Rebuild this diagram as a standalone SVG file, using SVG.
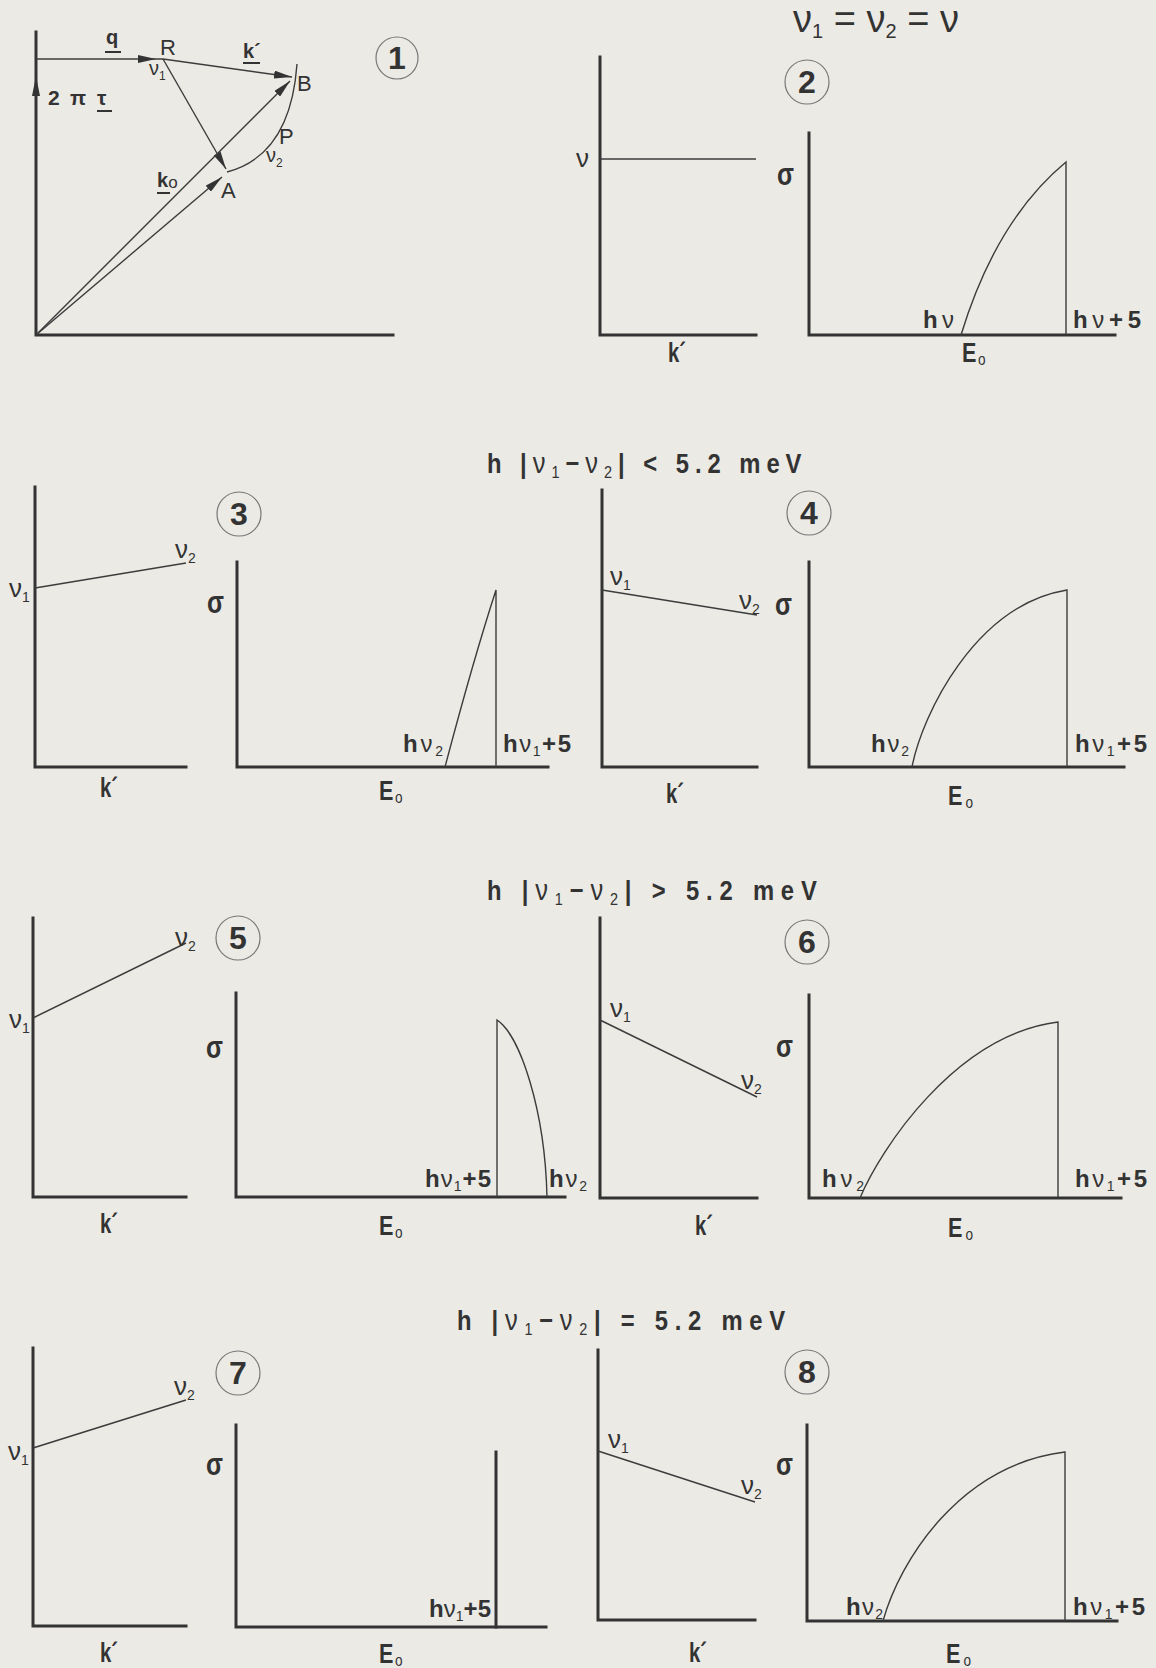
<svg xmlns="http://www.w3.org/2000/svg" width="1156" height="1668" viewBox="0 0 1156 1668">
<style>
.ax{stroke:#333;stroke-width:3;fill:none;stroke-linecap:square}
.ln{stroke:#3c3c3c;stroke-width:1.4;fill:none}
.cir{fill:none;stroke:#777;stroke-width:1.2}
.num{font-family:'Liberation Sans',Arial,sans-serif;font-weight:bold;font-size:32px;fill:#333;text-anchor:middle}
.lb{font-family:'Liberation Sans',Arial,sans-serif;font-weight:bold;font-size:24px;fill:#333}
.ax2{font-family:'Liberation Sans',Arial,sans-serif;font-weight:bold;font-size:27px;fill:#333}
.sg{font-family:'Liberation Sans',Arial,sans-serif;font-weight:bold;font-size:31px;fill:#333}
.hd{font-family:'Liberation Sans',Arial,sans-serif;font-weight:bold;font-size:28px;fill:#333}
.nu{font-family:'Liberation Sans',Arial,sans-serif;font-size:26px;fill:#333}
.rg{font-family:'Liberation Sans',Arial,sans-serif;font-size:22px;fill:#333}
.rb{font-family:'Liberation Sans',Arial,sans-serif;font-size:20px;font-weight:bold;fill:#333}
.ti{font-family:'Liberation Sans',Arial,sans-serif;font-size:38px;fill:#333}
.n{font-weight:normal}
.s{font-size:14px;font-weight:normal}
.so{font-size:17px;font-weight:normal}
.hs{font-size:17px;font-weight:normal}
.hn{font-size:30px;font-weight:normal}
.u{stroke:#333;stroke-width:2}
</style>
<defs>
<marker id="ah" markerWidth="18" markerHeight="8" refX="18" refY="4" orient="auto" markerUnits="userSpaceOnUse">
<path d="M0,0 L18,4 L0,8 z" fill="#333"/>
</marker>
</defs>
<rect width="1156" height="1668" fill="#ebeae5"/>

<!-- Panel 1 -->
<g id="p1">
<path class="ax" d="M36,32 V335 H393"/>
<path d="M36,76 L40,96 L32,96 z" fill="#333"/>
<path class="ln" d="M297,64 C293,120 272,160 227,172"/>
<circle class="cir" cx="397" cy="58" r="21"/>
<text class="num" x="397" y="69">1</text>
<text class="rb" x="106" y="44">q</text>
<line class="u" x1="105" y1="52" x2="121" y2="52"/>
<text class="rg" x="160" y="55">R</text>
<text class="rb" x="243" y="58">k´</text>
<line class="u" x1="243" y1="63" x2="260" y2="63"/>
<text class="rg" x="297" y="91">B</text>
<text class="rg" x="149" y="75" style="font-size:20px">ν<tspan style="font-size:12px" dy="5">1</tspan></text>
<text class="rg" x="279" y="144">P</text>
<text class="rg" x="266" y="162" style="font-size:20px">ν<tspan style="font-size:12px" dy="5">2</tspan></text>
<text class="rb" x="48" y="105" style="font-size:21px" textLength="38" lengthAdjust="spacing">2π</text>
<text class="rb" x="97" y="105" style="font-size:21px">τ</text>
<line class="u" x1="97" y1="111" x2="112" y2="111"/>
<text class="rb" x="157" y="187">k<tspan class="n" style="font-size:17px" dy="1">o</tspan></text>
<line class="u" x1="157" y1="193" x2="170" y2="193"/>
<text class="rg" x="221" y="198">A</text>
</g>

<g id="connectors">
<path class="ln" d="M36,59 L156,59 L163,59" marker-mid="url(#ah)"/>
<path class="ln" d="M163,59 L292,77" marker-end="url(#ah)"/>
<path class="ln" d="M163,59 L226,169" marker-end="url(#ah)"/>
<path class="ln" d="M36,335 L290,81" marker-end="url(#ah)"/>
<path class="ln" d="M36,335 L222,177" marker-end="url(#ah)"/>
</g>

<!-- Title -->
<g id="title">
<text class="ti" x="793" y="32" textLength="166" lengthAdjust="spacing">ν<tspan style="font-size:20px" dy="6">1</tspan><tspan dy="-6"> = ν</tspan><tspan style="font-size:20px" dy="6">2</tspan><tspan dy="-6"> = ν</tspan></text>
</g>

<!-- Panel 2 -->
<g id="p2">
<path class="ax" d="M600,57 V335 H756"/>
<path class="ln" d="M600,159 H756"/>
<text class="nu" x="576" y="167">ν</text>
<text class="ax2" transform="translate(668,362) scale(.75,1)">k´</text>
<path class="ax" d="M809,133 V335 H1115"/>
<path class="ln" d="M961,335 Q996,220 1066,162 V335"/>
<circle class="cir" cx="807" cy="82" r="22"/>
<text class="num" x="807" y="93">2</text>
<text class="sg" transform="translate(777,185) scale(.8,1)">σ</text>
<text class="lb" x="923" y="328" textLength="31" lengthAdjust="spacing">h<tspan class="n">ν</tspan></text>
<text class="lb" x="1073" y="328" textLength="68" lengthAdjust="spacing">h<tspan class="n">ν</tspan>+5</text>
<text class="ax2" transform="translate(962,362) scale(.8,1)">E<tspan class="so" dx="2" dy="3">o</tspan></text>
</g>

<g id="header1">
<text class="hd" transform="translate(487,473) scale(.85,1)" textLength="370" lengthAdjust="spacing">h |<tspan class="hn">ν</tspan><tspan class="hs" dy="5">1</tspan><tspan dy="-5">−</tspan><tspan class="hn">ν</tspan><tspan class="hs" dy="5">2</tspan><tspan dy="-5">| &lt; 5.2 meV</tspan></text>
</g>

<!-- Panel 3 -->
<g id="p3">
<path class="ax" d="M35,487 V767 H186"/>
<path class="ln" d="M35,588 L186,563"/>
<text class="nu" x="9" y="597">ν<tspan class="s" dy="5">1</tspan></text>
<text class="nu" x="175" y="558">ν<tspan class="s" dy="5">2</tspan></text>
<circle class="cir" cx="239" cy="514" r="22"/>
<text class="num" x="239" y="525">3</text>
<text class="ax2" transform="translate(100,797) scale(.75,1)">k´</text>
<path class="ax" d="M237,562 V767 H548"/>
<path class="ln" d="M445,767 Q473,661 496,590 V767"/>
<text class="sg" transform="translate(207,613) scale(.8,1)">σ</text>
<text class="lb" x="403" y="752" textLength="40" lengthAdjust="spacing">h<tspan class="n">ν</tspan><tspan class="s" dy="4">2</tspan></text>
<text class="lb" x="503" y="752" textLength="68" lengthAdjust="spacing">h<tspan class="n">ν</tspan><tspan class="s" dy="4">1</tspan><tspan dy="-4">+5</tspan></text>
<text class="ax2" transform="translate(379,800) scale(.8,1)">E<tspan class="so" dx="2" dy="3">o</tspan></text>
</g>

<!-- Panel 4 -->
<g id="p4">
<path class="ax" d="M602,490 V767 H757"/>
<path class="ln" d="M602,590 L757,615"/>
<text class="nu" x="610" y="585">ν<tspan class="s" dy="5">1</tspan></text>
<text class="nu" x="739" y="609">ν<tspan class="s" dy="5">2</tspan></text>
<circle class="cir" cx="809" cy="513" r="22"/>
<text class="num" x="809" y="524">4</text>
<text class="ax2" transform="translate(666,803) scale(.75,1)">k´</text>
<path class="ax" d="M809,562 V767 H1124"/>
<path class="ln" d="M912,767 C922,715 975,605 1067,590 V767"/>
<text class="sg" transform="translate(775,615) scale(.8,1)">σ</text>
<text class="lb" x="871" y="752" textLength="38" lengthAdjust="spacing">h<tspan class="n">ν</tspan><tspan class="s" dy="4">2</tspan></text>
<text class="lb" x="1075" y="752" textLength="72" lengthAdjust="spacing">h<tspan class="n">ν</tspan><tspan class="s" dy="4">1</tspan><tspan dy="-4">+5</tspan></text>
<text class="ax2" transform="translate(948,805) scale(.8,1)">E<tspan class="so" dx="4" dy="3">o</tspan></text>
</g>

<g id="header2">
<text class="hd" transform="translate(487,900) scale(.85,1)" textLength="388" lengthAdjust="spacing">h |<tspan class="hn">ν</tspan><tspan class="hs" dy="5">1</tspan><tspan dy="-5">−</tspan><tspan class="hn">ν</tspan><tspan class="hs" dy="5">2</tspan><tspan dy="-5">|  &gt;  5.2  meV</tspan></text>
</g>

<!-- Panel 5 -->
<g id="p5">
<path class="ax" d="M33,918 V1197 H186"/>
<path class="ln" d="M33,1018 L186,943"/>
<text class="nu" x="9" y="1028">ν<tspan class="s" dy="5">1</tspan></text>
<text class="nu" x="175" y="946">ν<tspan class="s" dy="5">2</tspan></text>
<circle class="cir" cx="238" cy="938" r="22"/>
<text class="num" x="238" y="949">5</text>
<text class="ax2" transform="translate(100,1233) scale(.75,1)">k´</text>
<path class="ax" d="M236,993 V1197 H565"/>
<path class="ln" d="M497,1197 V1020 C520,1035 545,1110 547,1197"/>
<text class="sg" transform="translate(206,1058) scale(.8,1)">σ</text>
<text class="lb" x="425" y="1187" textLength="66" lengthAdjust="spacing">h<tspan class="n">ν</tspan><tspan class="s" dy="4">1</tspan><tspan dy="-4">+5</tspan></text>
<text class="lb" x="549" y="1187" textLength="38" lengthAdjust="spacing">h<tspan class="n">ν</tspan><tspan class="s" dy="4">2</tspan></text>
<text class="ax2" transform="translate(379,1235) scale(.8,1)">E<tspan class="so" dx="2" dy="3">o</tspan></text>
</g>

<!-- Panel 6 -->
<g id="p6">
<path class="ax" d="M600,918 V1198 H757"/>
<path class="ln" d="M600,1020 L757,1097"/>
<text class="nu" x="610" y="1017">ν<tspan class="s" dy="5">1</tspan></text>
<text class="nu" x="741" y="1089">ν<tspan class="s" dy="5">2</tspan></text>
<circle class="cir" cx="807" cy="942" r="22"/>
<text class="num" x="807" y="953">6</text>
<text class="ax2" transform="translate(695,1235) scale(.75,1)">k´</text>
<path class="ax" d="M809,995 V1198 H1121"/>
<path class="ln" d="M860,1198 C880,1150 955,1035 1058,1022 V1198"/>
<text class="sg" transform="translate(776,1057) scale(.8,1)">σ</text>
<text class="lb" x="822" y="1187" textLength="42" lengthAdjust="spacing">h<tspan class="n">ν</tspan><tspan class="s" dy="4">2</tspan></text>
<text class="lb" x="1075" y="1187" textLength="72" lengthAdjust="spacing">h<tspan class="n">ν</tspan><tspan class="s" dy="4">1</tspan><tspan dy="-4">+5</tspan></text>
<text class="ax2" transform="translate(948,1237) scale(.8,1)">E<tspan class="so" dx="4" dy="3">o</tspan></text>
</g>

<g id="header3">
<text class="hd" transform="translate(457,1330) scale(.85,1)" textLength="386" lengthAdjust="spacing">h |<tspan class="hn">ν</tspan><tspan class="hs" dy="5">1</tspan><tspan dy="-5">−</tspan><tspan class="hn">ν</tspan><tspan class="hs" dy="5">2</tspan><tspan dy="-5">|  =  5.2  meV</tspan></text>
</g>

<!-- Panel 7 -->
<g id="p7">
<path class="ax" d="M33,1348 V1626 H186"/>
<path class="ln" d="M33,1448 L186,1400"/>
<text class="nu" x="8" y="1460">ν<tspan class="s" dy="5">1</tspan></text>
<text class="nu" x="174" y="1395">ν<tspan class="s" dy="5">2</tspan></text>
<circle class="cir" cx="238" cy="1373" r="22"/>
<text class="num" x="238" y="1384">7</text>
<text class="ax2" transform="translate(100,1662) scale(.75,1)">k´</text>
<path class="ax" d="M236,1425 V1627 H546"/>
<path class="ax" d="M496,1452 V1627"/>
<text class="sg" transform="translate(206,1475) scale(.8,1)">σ</text>
<text class="lb" x="429" y="1617" textLength="62" lengthAdjust="spacing">h<tspan class="n">ν</tspan><tspan class="s" dy="4">1</tspan><tspan dy="-4">+5</tspan></text>
<text class="ax2" transform="translate(379,1663) scale(.8,1)">E<tspan class="so" dx="2" dy="3">o</tspan></text>
</g>

<!-- Panel 8 -->
<g id="p8">
<path class="ax" d="M598,1350 V1620 H755"/>
<path class="ln" d="M598,1451 L755,1502"/>
<text class="nu" x="608" y="1448">ν<tspan class="s" dy="5">1</tspan></text>
<text class="nu" x="741" y="1494">ν<tspan class="s" dy="5">2</tspan></text>
<circle class="cir" cx="807" cy="1372" r="22"/>
<text class="num" x="807" y="1383">8</text>
<text class="ax2" transform="translate(689,1662) scale(.75,1)">k´</text>
<path class="ax" d="M807,1425 V1621 H1117"/>
<path class="ln" d="M883,1621 C900,1560 960,1465 1065,1452 V1621"/>
<text class="sg" transform="translate(776,1475) scale(.8,1)">σ</text>
<text class="lb" x="846" y="1615" textLength="37" lengthAdjust="spacing">h<tspan class="n">ν</tspan><tspan class="s" dy="4">2</tspan></text>
<text class="lb" x="1073" y="1615" textLength="72" lengthAdjust="spacing">h<tspan class="n">ν</tspan><tspan class="s" dy="4">1</tspan><tspan dy="-4">+5</tspan></text>
<text class="ax2" transform="translate(946,1663) scale(.8,1)">E<tspan class="so" dx="4" dy="3">o</tspan></text>
</g>
</svg>
